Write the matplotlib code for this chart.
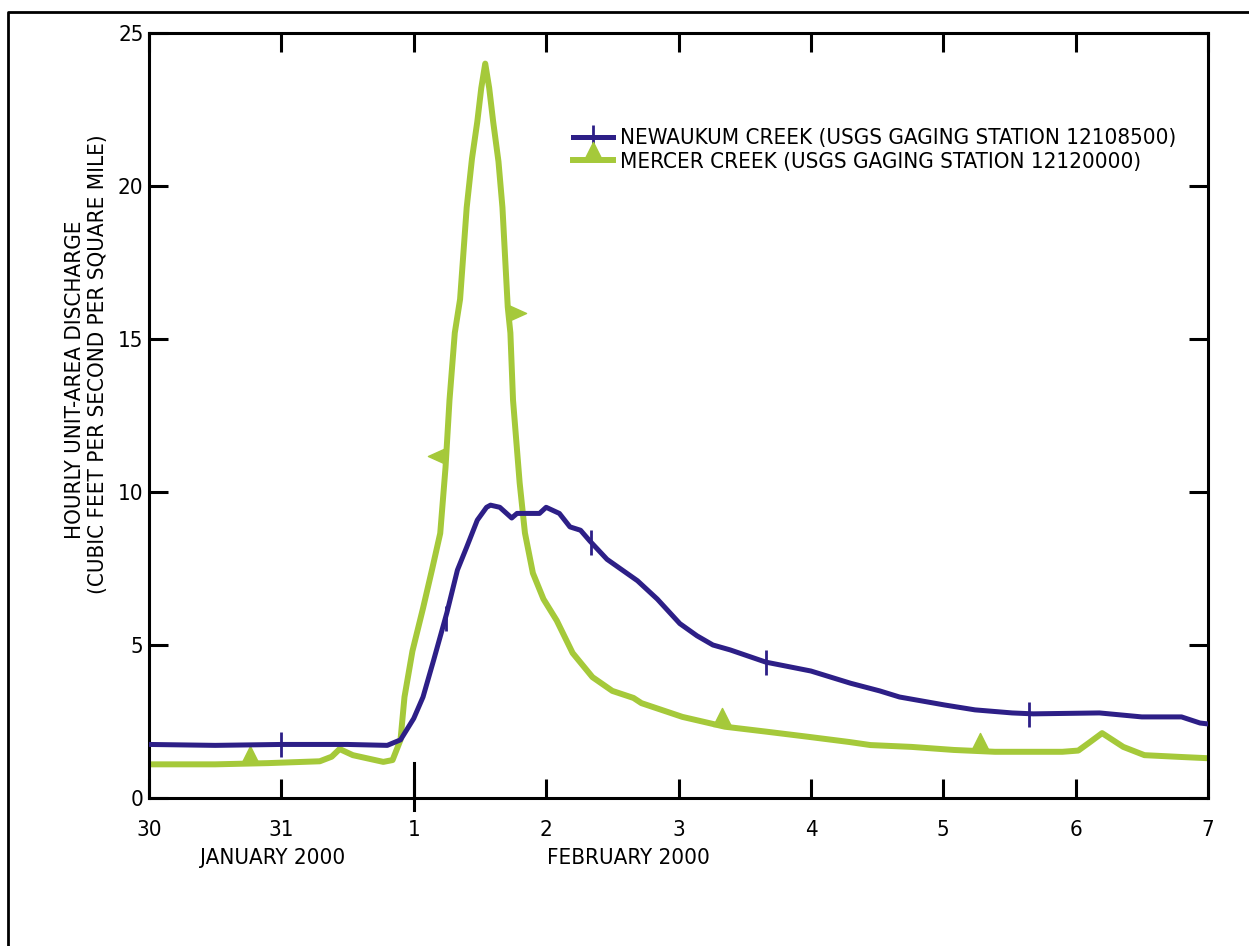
import matplotlib.pyplot as plt
import numpy as np
from matplotlib.path import Path
from matplotlib.lines import Line2D

plt.rcParams['font.family'] = ['DejaVu Sans']
plt.rcParams['font.stretch'] = 'condensed'

# days since 30 January 2000, 00:00
newaukum_days = [0.0, 0.5, 1.0, 1.5, 1.8, 1.9, 2.0, 2.07, 2.15, 2.25, 2.33, 2.4, 2.48, 2.55,
                 2.58, 2.65, 2.74, 2.78, 2.88, 2.95, 3.0, 3.1, 3.18, 3.26, 3.33, 3.46, 3.69,
                 3.84, 4.01, 4.14, 4.26, 4.39, 4.66, 5.0, 5.3, 5.52, 5.67, 6.01, 6.24,
                 6.52, 6.68, 7.18, 7.5, 7.8, 7.94, 8.0]
newaukum_q = [1.75, 1.72, 1.75, 1.75, 1.72, 1.9, 2.6, 3.3, 4.5, 6.05, 7.45, 8.2, 9.08, 9.5,
              9.57, 9.5, 9.15, 9.3, 9.3, 9.3, 9.5, 9.3, 8.86, 8.75, 8.4, 7.8, 7.1,
              6.5, 5.7, 5.3, 5.0, 4.84, 4.44, 4.15, 3.75, 3.5, 3.3, 3.04, 2.88,
              2.78, 2.75, 2.78, 2.65, 2.65, 2.45, 2.42]

mercer_days = [0.0, 0.5, 0.9, 1.29, 1.38, 1.44, 1.54, 1.77, 1.84, 1.9, 1.93, 1.99, 2.07, 2.14,
               2.2, 2.24, 2.27, 2.31, 2.35, 2.4, 2.44, 2.48, 2.51, 2.54, 2.57, 2.6, 2.64, 2.67,
               2.71, 2.73, 2.75, 2.8, 2.84, 2.9, 2.98, 3.08, 3.2, 3.35, 3.5, 3.66, 3.72, 4.03,
               4.35, 4.66, 4.98, 5.29, 5.45, 5.76, 6.08, 6.39, 6.9, 7.02, 7.1, 7.2, 7.36, 7.52,
               7.8, 8.0]
mercer_q = [1.1, 1.1, 1.14, 1.2, 1.35, 1.6, 1.4, 1.18, 1.24, 1.9, 3.3, 4.8, 6.2, 7.5, 8.65,
            10.8, 13.0, 15.2, 16.3, 19.3, 20.9, 22.1, 23.2, 24.0, 23.2, 22.1, 20.8, 19.3,
            16.05, 15.2, 13.0, 10.3, 8.66, 7.35, 6.5, 5.8, 4.74, 3.95, 3.5, 3.27, 3.1, 2.65,
            2.33, 2.17, 2.0, 1.83, 1.73, 1.67, 1.57, 1.51, 1.51, 1.55, 1.8, 2.12, 1.67, 1.4,
            1.34, 1.3]

newaukum_marks = [1.0, 2.24, 3.34, 4.66, 6.65]
mercer_up_marks = [0.76, 4.33, 6.28]
mercer_left_marks = [2.245]
mercer_right_marks = [2.715]

tick_days = [0, 1, 2, 3, 4, 5, 6, 7, 8]
tick_labels = ["30", "31", "1", "2", "3", "4", "5", "6", "7"]

purple = "#2d1f87"
green = "#a5c93a"

# triangles with their base on the data point
tri_up = Path([(-0.5, 0), (0.5, 0), (0, 1), (-0.5, 0)], closed=True)
tri_left = Path([(0, -0.45), (0, 0.45), (-1, 0), (0, -0.45)], closed=True)
tri_right = Path([(0, -0.45), (0, 0.45), (1, 0), (0, -0.45)], closed=True)

fig = plt.figure(figsize=(12.49, 9.46), dpi=100)
ax = fig.add_axes([149 / 1249, 148 / 946, 1059 / 1249, 765 / 946])

ax.plot(newaukum_days, newaukum_q, color=purple, lw=3.6, zorder=3)
ax.plot(mercer_days, mercer_q, color=green, lw=4.3, zorder=2)

ax.plot(newaukum_marks, np.interp(newaukum_marks, newaukum_days, newaukum_q), ls="none",
        marker="|", ms=18, mew=2, color=purple, zorder=4)
ax.plot(mercer_up_marks, np.interp(mercer_up_marks, mercer_days, mercer_q), ls="none",
        marker=tri_up, ms=26, color=green, zorder=2)
ax.plot(mercer_left_marks, np.interp(mercer_left_marks, mercer_days, mercer_q), ls="none",
        marker=tri_left, ms=26, color=green, zorder=2)
ax.plot(mercer_right_marks, np.interp(mercer_right_marks, mercer_days, mercer_q), ls="none",
        marker=tri_right, ms=26, color=green, zorder=2)

ax.set_xlim(0, 8)
ax.set_ylim(0, 25)
ax.set_xticks(tick_days)
ax.set_xticklabels(tick_labels)
ax.set_yticks([0, 5, 10, 15, 20, 25])
ax.tick_params(direction="in", length=14, width=2.2, labelsize=16, top=True, right=True)
ax.tick_params(axis="x", pad=16)
ax.tick_params(axis="y", pad=4)
for s in ax.spines.values():
    s.set_linewidth(2.2)
# month boundary tick crosses the axis
ax.plot([2, 2], [-0.4, 1.15], color="black", lw=2.2, clip_on=False, zorder=5)

handles = [
    Line2D([], [], color=purple, lw=3.6, marker="|", ms=18, mew=2),
    Line2D([], [], color=green, lw=4.3, marker=tri_up, ms=26),
]
ax.legend(handles, ["NEWAUKUM CREEK (USGS GAGING STATION 12108500)",
                    "MERCER CREEK (USGS GAGING STATION 12120000)"],
          loc="upper left", bbox_to_anchor=(0.392, 0.887), frameon=False, fontsize=16,
          handlelength=1.8, handletextpad=0.3, labelspacing=0.15, borderaxespad=0)

fig.text(75 / 1249, 1 - 380 / 946, "HOURLY UNIT-AREA DISCHARGE", rotation=90,
         ha="center", va="center", fontsize=16)
fig.text(98 / 1249, 1 - 364 / 946, "(CUBIC FEET PER SECOND PER SQUARE MILE)", rotation=90,
         ha="center", va="center", fontsize=16)
fig.text(273 / 1249, 1 - 858 / 946, "JANUARY 2000", ha="center", va="center", fontsize=16)
fig.text(628 / 1249, 1 - 858 / 946, "FEBRUARY 2000", ha="center", va="center", fontsize=16)

# outer frame
fig.add_artist(Line2D([8 / 1249, 8 / 1249, 1.0], [0.0, 1 - 12 / 946, 1 - 12 / 946],
                      color="black", lw=2))

fig.savefig("out.png", dpi=100)
